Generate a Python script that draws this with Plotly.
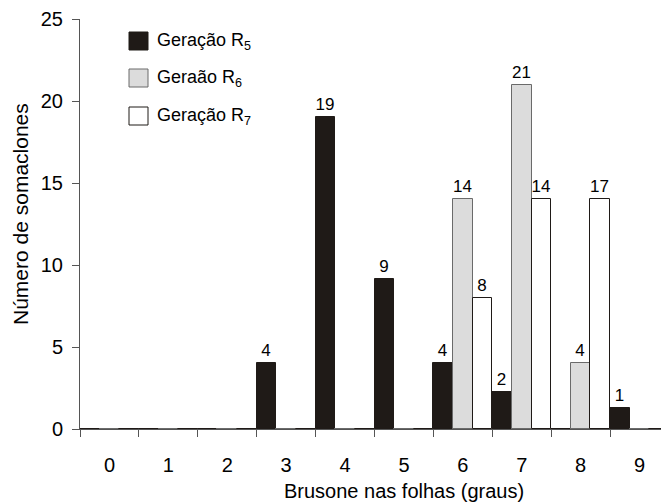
import plotly.graph_objects as go

categories = ["0", "1", "2", "3", "4", "5", "6", "7", "8", "9"]
r5_values = [0, 0, 0, 4, 19, 9.15, 4, 2.25, 0, 1.3]
r6_values = [0, 0, 0, 0, 0, 0, 14, 21, 4, 0]
r7_values = [0, 0, 0, 0, 0, 0, 8, 14, 14, 0]
r5_labels = ["", "", "", "4", "19", "9", "4", "2", "", "1"]
r6_labels = ["", "", "", "", "", "", "14", "21", "4", ""]
r7_labels = ["", "", "", "", "", "", "8", "14", "17", ""]
series_names = ["Geração R<sub>5</sub>", "Geraão R<sub>6</sub>", "Geração R<sub>7</sub>"]
y_ticks = [0, 5, 10, 15, 20, 25]

FONT = "Arial, Liberation Sans, sans-serif"
fills = ["#1f1a17", "#dcdcdc", "#ffffff"]
edges = ["#1f1a17", "#6a6a6a", "#1f1a17"]

fig = go.Figure()
for vals, labs, fc, ec in zip([r5_values, r6_values, r7_values],
                              [r5_labels, r6_labels, r7_labels], fills, edges):
    fig.add_trace(go.Bar(
        x=categories, y=vals, text=labs, textposition="outside",
        constraintext="none", cliponaxis=False,
        textfont=dict(family=FONT, size=17, color="#000000"),
        marker=dict(color=fc, line=dict(color=ec, width=1)),
        showlegend=False, hoverinfo="skip"))

# page body has an 8px default margin, so the figure is shrunk by that offset
OFF = 8
W, H = 669 - OFF, 502 - OFF
PL, PT, PH = 80, 19, 410          # plot area in window pixels
PW = 669 - PL
L, T = PL - OFF, PT - OFF
R = W - L - PW
B = H - T - PH

def px(x):
    return (x - PL) / PW

def py(y):
    return (PT + PH - y) / PH

shapes = []
annotations = []
legend_rows = [(32, 50), (69, 87), (107, 125)]
for (y0, y1), fc, ec, name in zip(legend_rows, fills, edges, series_names):
    shapes.append(dict(type="rect", xref="paper", yref="paper",
                       x0=px(129), x1=px(148), y0=py(y1), y1=py(y0),
                       fillcolor=fc, line=dict(color=ec, width=1), layer="above"))
    annotations.append(dict(xref="paper", yref="paper", x=px(155), y=py((y0 + y1) / 2),
                            text=name, showarrow=False, xanchor="left", yanchor="middle",
                            font=dict(family=FONT, size=18, color="#000000")))

annotations.append(dict(xref="paper", yref="paper", x=px(404), y=py(491),
                        text="Brusone nas folhas (graus)", showarrow=False,
                        xanchor="center", yanchor="middle",
                        font=dict(family=FONT, size=20, color="#000000")))
annotations.append(dict(xref="paper", yref="paper", x=px(20), y=py(214),
                        text="Número de somaclones", showarrow=False, textangle=-90,
                        xanchor="center", yanchor="middle",
                        font=dict(family=FONT, size=21, color="#000000")))

fig.update_layout(
    width=W, height=H,
    margin=dict(l=L, r=R, t=T, b=B, pad=0),
    paper_bgcolor="white", plot_bgcolor="white",
    barmode="group", bargap=0, bargroupgap=0,
    shapes=shapes, annotations=annotations,
    xaxis=dict(type="category", range=[-0.5, 9.5], tickson="boundaries",
               showline=True, linecolor="#555555", linewidth=1,
               ticks="outside", ticklen=7, tickcolor="#555555",
               ticklabelstandoff=18,
               tickfont=dict(family=FONT, size=20, color="#000000"),
               showgrid=False, zeroline=False, fixedrange=True),
    yaxis=dict(range=[0, 25], tickvals=y_ticks,
               showline=True, linecolor="#555555", linewidth=1,
               ticks="outside", ticklen=7, tickcolor="#555555",
               ticklabelstandoff=5,
               tickfont=dict(family=FONT, size=20, color="#000000"),
               showgrid=False, zeroline=False, fixedrange=True),
)

fig.write_html("out.html")
